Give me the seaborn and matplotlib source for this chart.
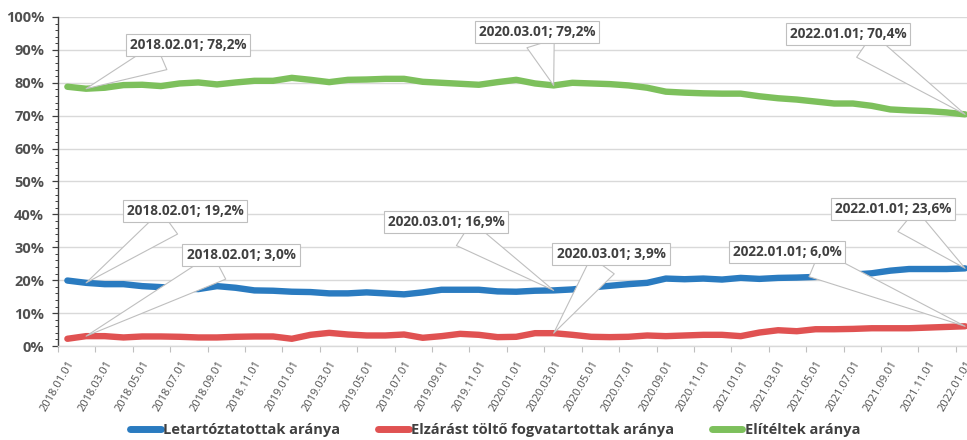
import numpy as np
import pandas as pd
import matplotlib
matplotlib.use("Agg")
import matplotlib.pyplot as plt
from matplotlib.lines import Line2D
import seaborn as sns

# --- data (monthly 2018.01 - 2022.01) ---
months = pd.date_range("2018-01-01", "2022-01-01", freq="MS").strftime("%Y.%m.%d").tolist()

letartoztatottak = [19.9, 19.2, 18.8, 18.8, 18.2, 17.9, 17.5, 17.3, 18.2, 17.7,
                    16.9, 16.8, 16.5, 16.4, 16.0, 16.0, 16.3, 16.0, 15.7, 16.3,
                    17.1, 17.1, 17.1, 16.6, 16.5, 16.8, 16.9, 17.2, 17.8, 18.3,
                    18.8, 19.2, 20.5, 20.3, 20.5, 20.2, 20.7, 20.4, 20.7, 20.8,
                    21.0, 21.4, 21.7, 22.1, 22.9, 23.4, 23.4, 23.4, 23.6]

elzarast_toltok = [2.2, 3.0, 3.0, 2.6, 2.9, 2.9, 2.8, 2.6, 2.6, 2.8,
                   2.9, 2.9, 2.2, 3.4, 4.0, 3.5, 3.2, 3.2, 3.5, 2.5,
                   3.0, 3.7, 3.4, 2.7, 2.8, 3.9, 3.9, 3.4, 2.8, 2.7,
                   2.8, 3.2, 3.0, 3.2, 3.4, 3.4, 3.0, 4.1, 4.8, 4.5,
                   5.1, 5.1, 5.2, 5.4, 5.4, 5.4, 5.6, 5.8, 6.0]

eliteltek = [78.8, 78.2, 78.5, 79.3, 79.4, 79.0, 79.8, 80.1, 79.5, 80.1,
             80.6, 80.6, 81.5, 80.9, 80.2, 80.9, 81.0, 81.2, 81.2, 80.3,
             80.0, 79.7, 79.4, 80.2, 80.9, 79.8, 79.2, 80.0, 79.8, 79.6,
             79.2, 78.5, 77.3, 77.0, 76.8, 76.7, 76.7, 75.9, 75.3, 74.9,
             74.3, 73.7, 73.7, 73.0, 71.9, 71.6, 71.4, 71.0, 70.4]

series_names = ["Letartóztatottak aránya",
                "Elzárást töltő fogvatartottak aránya",
                "Elítéltek aránya"]
series_values = [letartoztatottak, elzarast_toltok, eliteltek]
colors = ["#2A7BC0", "#E05252", "#7DC05C"]

# callouts: (series index, month, box centre in figure pixels)
callouts = [
    (2, "2018.02.01", (188, 395)),
    (2, "2020.03.01", (537, 408)),
    (2, "2022.01.01", (848, 406)),
    (0, "2018.02.01", (185, 229)),
    (0, "2020.03.01", (446, 218)),
    (0, "2022.01.01", (893, 231)),
    (1, "2018.02.01", (241, 185)),
    (1, "2020.03.01", (611, 186)),
    (1, "2022.01.01", (787, 188)),
]

# --- long table for seaborn ---
frames = []
for name, vals in zip(series_names, series_values):
    frames.append(pd.DataFrame({"pos": np.arange(len(months)), "month": months,
                                "value": vals, "series": name}))
df = pd.concat(frames, ignore_index=True)

sns.set_style("white")
plt.rcParams["font.family"] = ["Open Sans", "DejaVu Sans"]

fig = plt.figure(figsize=(9.67, 4.4), dpi=100)
ax = fig.add_axes([0.060, 0.2136, 0.940, 0.7478])

sns.lineplot(data=df, x="pos", y="value", hue="series", hue_order=series_names,
             palette=dict(zip(series_names, colors)), linewidth=4.6,
             legend=False, ax=ax, solid_capstyle="round", solid_joinstyle="round")

ax.set_xlim(-0.5, 48.1)
ax.set_ylim(0, 100)
ax.set_xlabel("")
ax.set_ylabel("")

# y axis
ax.set_yticks(range(0, 101, 10))
ax.set_yticklabels([f"{v}%" for v in range(0, 101, 10)],
                   fontsize=10.5, fontweight="bold", color="#505050")
ax.set_yticks(range(0, 101, 2), minor=True)
ax.tick_params(axis="y", which="major", direction="out", length=4, width=0.9,
               color="#404040", pad=6, left=True)
ax.tick_params(axis="y", which="minor", direction="out", length=2.5, width=0.7,
               color="#404040", left=True)
ax.yaxis.grid(True, which="major", color="#D9D9D9", linewidth=1)
ax.set_axisbelow(True)

# x axis: labels every second month, tick marks between categories
ax.set_xticks(range(0, len(months), 2))
ax.set_xticklabels(months[::2], rotation=60, ha="right", rotation_mode="anchor",
                   fontsize=8, color="#505050")
ax.set_xticks(np.arange(-0.5, len(months), 2), minor=True)
ax.tick_params(axis="x", which="major", length=0, pad=9)
ax.tick_params(axis="x", which="minor", direction="out", length=4, width=0.8,
               color="#BFBFBF", bottom=True)

for side in ["top", "right"]:
    ax.spines[side].set_visible(False)
ax.spines["left"].set_color("#404040")
ax.spines["left"].set_linewidth(1.0)
ax.spines["bottom"].set_color("#D9D9D9")
ax.spines["bottom"].set_linewidth(1.0)

# callouts
for si, month, (bx, by) in callouts:
    i = months.index(month)
    v = series_values[si][i]
    label = f"{month}; " + f"{v:.1f}".replace(".", ",") + "%"
    ax.annotate(label, xy=(i, v), xycoords="data",
                xytext=(bx, by), textcoords="figure pixels",
                ha="center", va="center", fontsize=9.8, fontweight="bold",
                color="#404040", zorder=5,
                bbox=dict(boxstyle="square,pad=0.3", fc="white", ec="#BFBFBF", lw=0.8),
                arrowprops=dict(arrowstyle="wedge,tail_width=2.1", fc="white",
                                ec="#BFBFBF", lw=0.8, shrinkA=0, shrinkB=0))

# legend
handles = [Line2D([0], [0], color=c, linewidth=5, solid_capstyle="round") for c in colors]
fig.legend(handles, series_names, loc="center", bbox_to_anchor=(0.512, 0.022),
           ncol=3, frameon=False, handlelength=2.1, handletextpad=0.15,
           columnspacing=2.6, prop={"size": 10.5, "weight": "bold"},
           labelcolor="#404040")

fig.savefig("out.png", dpi=100)
